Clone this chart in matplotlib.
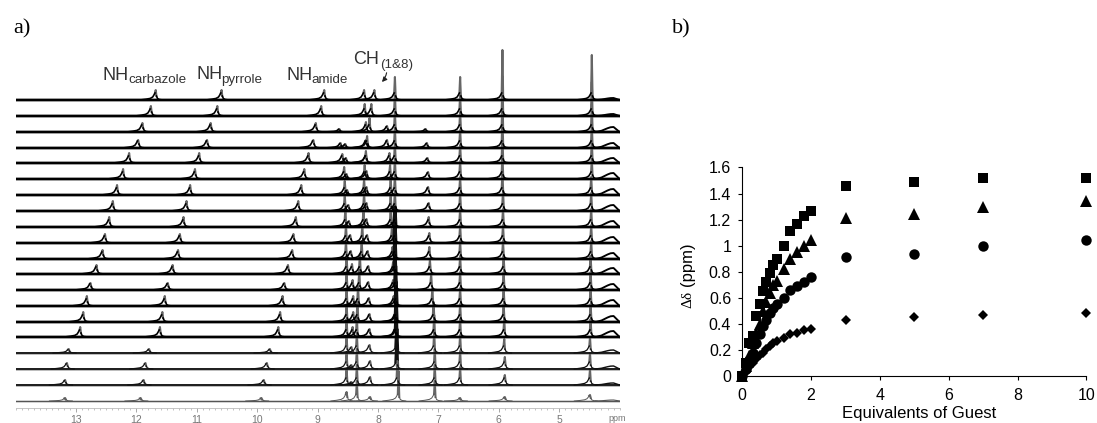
import numpy as np
import matplotlib
matplotlib.use("Agg")
import matplotlib.pyplot as plt

W, H = 1097, 423

# a) baselines of the stacked spectra in px units, top trace first
offsets = [301, 285, 269, 253, 238, 222, 206, 190, 174, 158, 142, 127, 111, 95, 79, 64, 48, 32, 16, 0]

# peak positions in ppm, top trace first
carbazole = [11.68, 11.76, 11.90, 11.97, 12.12, 12.22, 12.32, 12.39, 12.45, 12.52,
             12.56, 12.66, 12.76, 12.82, 12.88, 12.93, 13.12, 13.15, 13.18, 13.18]
pyrrole = [10.59, 10.66, 10.77, 10.83, 10.96, 11.03, 11.11, 11.17, 11.22, 11.28,
           11.31, 11.40, 11.48, 11.53, 11.57, 11.61, 11.79, 11.85, 11.88, 11.93]
amide = [8.89, 8.94, 9.03, 9.07, 9.15, 9.22, 9.27, 9.32, 9.36, 9.40,
         9.42, 9.49, 9.55, 9.58, 9.62, 9.65, 9.79, 9.84, 9.89, 9.93]
ch_a = [8.64, 8.64, 8.64, 8.62, 8.59, 8.56, 8.55, 8.55, 8.54, 8.53,
        8.53, 8.52, 8.52, 8.52, 8.52, 8.52, 8.52, 8.52, 8.52, 8.52]
ch_b = [8.54, 8.54, 8.54, 8.54, 8.53, 8.52, 8.51, 8.49, 8.48, 8.46,
        8.45, 8.43, 8.42, 8.41, 8.41, 8.42, 8.44, 8.44, 8.44, 8.44]
ch_c = [8.06, 8.11, 8.14, 8.18, 8.20, 8.22, 8.23, 8.23, 8.24, 8.26,
        8.27, 8.30, 8.31, 8.33, 8.34, 8.35, 8.35, 8.35, 8.35, 8.35]
ch_d = [8.23, 8.22, 8.20, 8.20, 8.20, 8.19, 8.19, 8.19, 8.19, 8.18,
        8.17, 8.16, 8.16, 8.15, 8.14, 8.14, 8.14, 8.13, 8.13, 8.13]
ch_e = [7.85, 7.85, 7.85, 7.85, 7.81, 7.80, 7.79, 7.79, 7.79, 7.77,
        7.76, 7.75, 7.75, 7.74, 7.72, 7.72, 7.72, 7.72, 7.72, 7.72]
ch_f = [7.72, 7.72, 7.72, 7.72, 7.72, 7.72, 7.72, 7.72, 7.72, 7.72,
        7.72, 7.72, 7.71, 7.70, 7.70, 7.70, 7.69, 7.69, 7.68, 7.66]
ch_g = [7.21, 7.21, 7.21, 7.19, 7.18, 7.17, 7.17, 7.16, 7.16, 7.15,
        7.15, 7.14, 7.12, 7.10, 7.08, 7.07, 7.07, 7.06, 7.06, 7.06]
ch_h = [6.64, 6.64, 6.64, 6.64, 6.64, 6.64, 6.64, 6.64, 6.64, 6.64,
        6.64, 6.64, 6.64, 6.64, 6.64, 6.64, 6.64, 6.64, 6.64, 6.64]
ch_i = [5.94, 5.94, 5.94, 5.94, 5.94, 5.94, 5.94, 5.93, 5.93, 5.93,
        5.93, 5.92, 5.92, 5.92, 5.92, 5.91, 5.91, 5.90, 5.90, 5.90]
ch_j = [4.46, 4.46, 4.46, 4.46, 4.46, 4.46, 4.47, 4.47, 4.47, 4.47,
        4.47, 4.48, 4.48, 4.48, 4.48, 4.48, 4.49, 4.49, 4.49, 4.49]
ch_k = [4.10, 4.10, 4.10, 4.10, 4.10, 4.10, 4.10, 4.10, 4.10, 4.10,
        4.10, 4.10, 4.10, 4.10, 4.10, 4.10, 4.10, 4.10, 4.10, 4.10]

# peak heights in px units, top trace first
h_nh = [10, 10, 9, 8, 10, 10, 10, 10, 10, 9, 9, 9, 7, 10, 10, 10, 4, 6, 5, 3]
h_a = [0, 0, 3, 5, 9, 12, 14, 16, 18, 18, 18, 18, 18, 18, 18, 18, 16, 16, 16, 9]
h_b = [0, 0, 0, 4, 5, 5, 5, 6, 6, 8, 8, 10, 10, 10, 10, 10, 6, 4, 3, 0]
h_c = [10, 12, 14, 12, 12, 14, 16, 18, 18, 18, 18, 20, 20, 20, 20, 20, 20, 20, 20, 20]
h_d = [10, 12, 10, 8, 8, 8, 8, 8, 8, 8, 8, 8, 8, 8, 8, 8, 8, 8, 8, 4]
h_e = [0, 0, 6, 8, 10, 14, 16, 16, 16, 14, 12, 12, 10, 10, 8, 8, 0, 0, 0, 0]
h_f = [23, 23, 20, 20, 20, 20, 20, 20, 20, 22, 24, 24, 24, 24, 24, 24, 24, 24, 24, 30]
h_g = [0, 0, 3, 5, 5, 7, 8, 8, 10, 10, 12, 14, 16, 18, 20, 22, 22, 20, 20, 20]
h_h = [23, 21, 20, 18, 18, 18, 18, 18, 18, 18, 18, 18, 18, 18, 18, 18, 18, 18, 18, 3]
h_i = [50, 40, 34, 30, 26, 24, 22, 20, 18, 18, 18, 18, 18, 18, 18, 18, 14, 12, 10, 4]
h_j = [45, 34, 28, 24, 22, 20, 18, 18, 18, 18, 18, 18, 18, 18, 18, 18, 16, 16, 16, 6]
h_k = [2, 2, 5, 5, 5, 6, 6, 6, 6, 6, 6, 6, 6, 6, 6, 6, 3, 3, 2, 1]

# line shape: skirt in px that stays the same for all peaks, then a thin spike
skirt_dx = [0.26, 0.16, 0.09, 0.05, 0.03, 0.012]
skirt_px = [0.0, 0.8, 1.6, 3.0, 5.0, 7.0]
right_dx = [-0.012, -0.03, -0.06, -0.12]
right_px = [4.0, 1.5, 0.5, 0.0]
broad_dx = [0.30, 0.20, 0.10, 0.05, 0.0, -0.05, -0.10]
broad_y = [0.0, 0.25, 0.75, 0.95, 1.0, 0.5, 0.0]

ppm_ticks = [13, 12, 11, 10, 9, 8, 7, 6, 5]

# b) titration data
guest = [0, 0.1, 0.2, 0.3, 0.4, 0.5, 0.6, 0.7, 0.8, 0.9, 1, 1.2, 1.4, 1.6, 1.8, 2, 3, 5, 7, 10]
squares = [0, 0.10, 0.25, 0.31, 0.46, 0.55, 0.65, 0.72, 0.79, 0.85, 0.90, 1.00, 1.11, 1.17, 1.23, 1.27, 1.46, 1.49, 1.52, 1.52]
triangles = [0, 0.08, 0.15, 0.25, 0.33, 0.40, 0.50, 0.57, 0.64, 0.70, 0.73, 0.82, 0.90, 0.95, 1.00, 1.04, 1.21, 1.24, 1.30, 1.34]
circles = [0, 0.05, 0.12, 0.18, 0.25, 0.32, 0.38, 0.43, 0.48, 0.52, 0.55, 0.60, 0.66, 0.69, 0.72, 0.76, 0.91, 0.94, 1.00, 1.04]
diamonds = [0, 0.03, 0.07, 0.10, 0.13, 0.16, 0.18, 0.21, 0.23, 0.25, 0.27, 0.29, 0.32, 0.33, 0.35, 0.36, 0.43, 0.45, 0.47, 0.48]


def px_axes(fig, left, top, right, bottom):
    # axes from pixel edges of the picture
    return fig.add_axes([left / W, 1 - bottom / H, (right - left) / W, (bottom - top) / H])


def draw_peak(ax, pos, base, height, base_color, base_lw, spike_color="#666666", spike_lw=1.5):
    if height <= 0:
        return
    scale = min(1.0, height / 8.0)
    # skirt belongs to the baseline, the spike is thin and gray
    sk_l = [base + p * scale for p in skirt_px]
    sk_r = [base + p * scale for p in right_px]
    ax.plot([pos + d for d in skirt_dx], sk_l, color=base_color, lw=base_lw, zorder=5)
    ax.plot([pos + d for d in right_dx], sk_r, color=base_color, lw=base_lw, zorder=5)
    ax.plot([pos + skirt_dx[-1], pos, pos + right_dx[0]], [sk_l[-1], base + height, sk_r[0]],
            color=spike_color, lw=spike_lw, zorder=3)


def draw_spectra(ax):
    sharp = [carbazole, pyrrole, amide, ch_a, ch_b, ch_c, ch_d, ch_e, ch_g, ch_h, ch_i, ch_j]
    heights = [h_nh, h_nh, h_nh, h_a, h_b, h_c, h_d, h_e, h_g, h_h, h_i, h_j]
    for i, base in enumerate(offsets):
        if i < 16:
            color, lw, halo = "black", 1.7, 2.7
        elif i < 19:
            color, lw, halo = "#111111", 1.3, 2.1
        else:
            color, lw, halo = "#555555", 1.0, 1.0
        ax.plot([14, 4], [base, base], color="#777777", lw=halo, alpha=0.5, zorder=2)
        ax.plot([14, 4], [base, base], color=color, lw=lw, zorder=4)
        for pos, h in zip(sharp, heights):
            draw_peak(ax, pos[i], base, h[i], color, lw * 0.7)
        # the big solvent line goes nearly black in the middle of the stack
        if 8 <= i <= 17:
            draw_peak(ax, ch_f[i], base, h_f[i], color, lw * 0.7, "#111111", 2.4)
        else:
            draw_peak(ax, ch_f[i], base, h_f[i], color, lw * 0.7)
        xs = [ch_k[i] + d for d in broad_dx]
        ax.plot(xs, [base + h_k[i] * f for f in broad_y], color=color, lw=lw * 0.8, zorder=5)

    ax.set_xlim(14, 4)
    ax.set_ylim(-7, 363)
    ax.set_xticks(ppm_ticks)
    ax.set_xticks(np.arange(4, 14.01, 0.1), minor=True)
    ax.set_yticks([])
    for side in ["top", "left", "right"]:
        ax.spines[side].set_visible(False)
    ax.spines["bottom"].set_color("#bbbbbb")
    ax.spines["bottom"].set_linewidth(0.6)
    ax.tick_params(axis="x", which="major", length=3, width=0.6, color="#999999",
                   labelsize=7.5, labelcolor="#777777", pad=2)
    ax.tick_params(axis="x", which="minor", length=1.5, width=0.5, color="#aaaaaa")


def draw_titration(ax):
    ax.plot(guest, squares, "s", color="black", ms=7, mew=0, clip_on=False)
    ax.plot(guest, triangles, "^", color="black", ms=8, mew=0, clip_on=False)
    ax.plot(guest, circles, "o", color="black", ms=7.5, mew=0, clip_on=False)
    ax.plot(guest, diamonds, "D", color="black", ms=5, mew=0, clip_on=False)
    ax.set_xlim(0, 10)
    ax.set_ylim(0, 1.6)
    ax.set_xticks([0, 2, 4, 6, 8, 10])
    ax.set_yticks([0, 0.2, 0.4, 0.6, 0.8, 1, 1.2, 1.4, 1.6])
    ax.set_yticklabels(["0", "0.2", "0.4", "0.6", "0.8", "1", "1.2", "1.4", "1.6"])
    ax.spines["top"].set_visible(False)
    ax.spines["right"].set_visible(False)
    ax.tick_params(length=3, width=0.8, labelsize=11.5)
    ax.tick_params(axis="y", pad=5)
    ax.tick_params(axis="x", pad=6)


def put_text(fig, x, y, s, **kw):
    # x, y are the pixel position of the left end of the text baseline
    fig.text(x / W, 1 - y / H, s, va="baseline", **kw)


def main():
    plt.rcParams["font.family"] = ["Liberation Sans", "DejaVu Sans"]
    fig = plt.figure(figsize=(W / 100, H / 100), dpi=100)

    ax_a = px_axes(fig, 15.6, 38, 619.6, 408)
    draw_spectra(ax_a)
    ax_a.patch.set_alpha(0)

    ax_b = px_axes(fig, 742.3, 167.5, 1086.3, 376)
    draw_titration(ax_b)

    put_text(fig, 13, 33, "a)", fontsize=16, family="Liberation Serif")
    put_text(fig, 672, 33, "b)", fontsize=16, family="Liberation Serif")

    gray = "#333333"
    put_text(fig, 102, 80, "NH", fontsize=13, color=gray)
    put_text(fig, 128, 83, "carbazole", fontsize=9.6, color=gray)
    put_text(fig, 197, 79, "NH", fontsize=13, color=gray)
    put_text(fig, 221, 83, "pyrrole", fontsize=9.6, color=gray)
    put_text(fig, 286, 80, "NH", fontsize=13, color=gray)
    put_text(fig, 311, 83, "amide", fontsize=9.6, color=gray)
    put_text(fig, 353, 64, "CH", fontsize=13, color=gray)
    put_text(fig, 380, 68, "(1&8)", fontsize=9.6, color=gray)
    put_text(fig, 608, 421, "ppm", fontsize=6.5, color="#777777")

    fig.add_artist(matplotlib.patches.FancyArrowPatch(
        (387 / W, 1 - 70 / H), (380 / W, 1 - 84 / H), transform=fig.transFigure,
        arrowstyle="-|>", mutation_scale=7, color="#222222", lw=0.8,
        connectionstyle="arc3,rad=-0.2"))

    fig.text(919 / W, 1 - 418 / H, "Equivalents of Guest", fontsize=12, ha="center", va="baseline")
    fig.text(688 / W, 1 - 308 / H, "Δδ", fontsize=11, rotation=90, ha="center", va="bottom",
             family="Liberation Serif")
    fig.text(688 / W, 1 - 286 / H, "(ppm)", fontsize=12, rotation=90, ha="center", va="bottom")

    fig.savefig("out.png", dpi=100)


if __name__ == "__main__":
    main()
